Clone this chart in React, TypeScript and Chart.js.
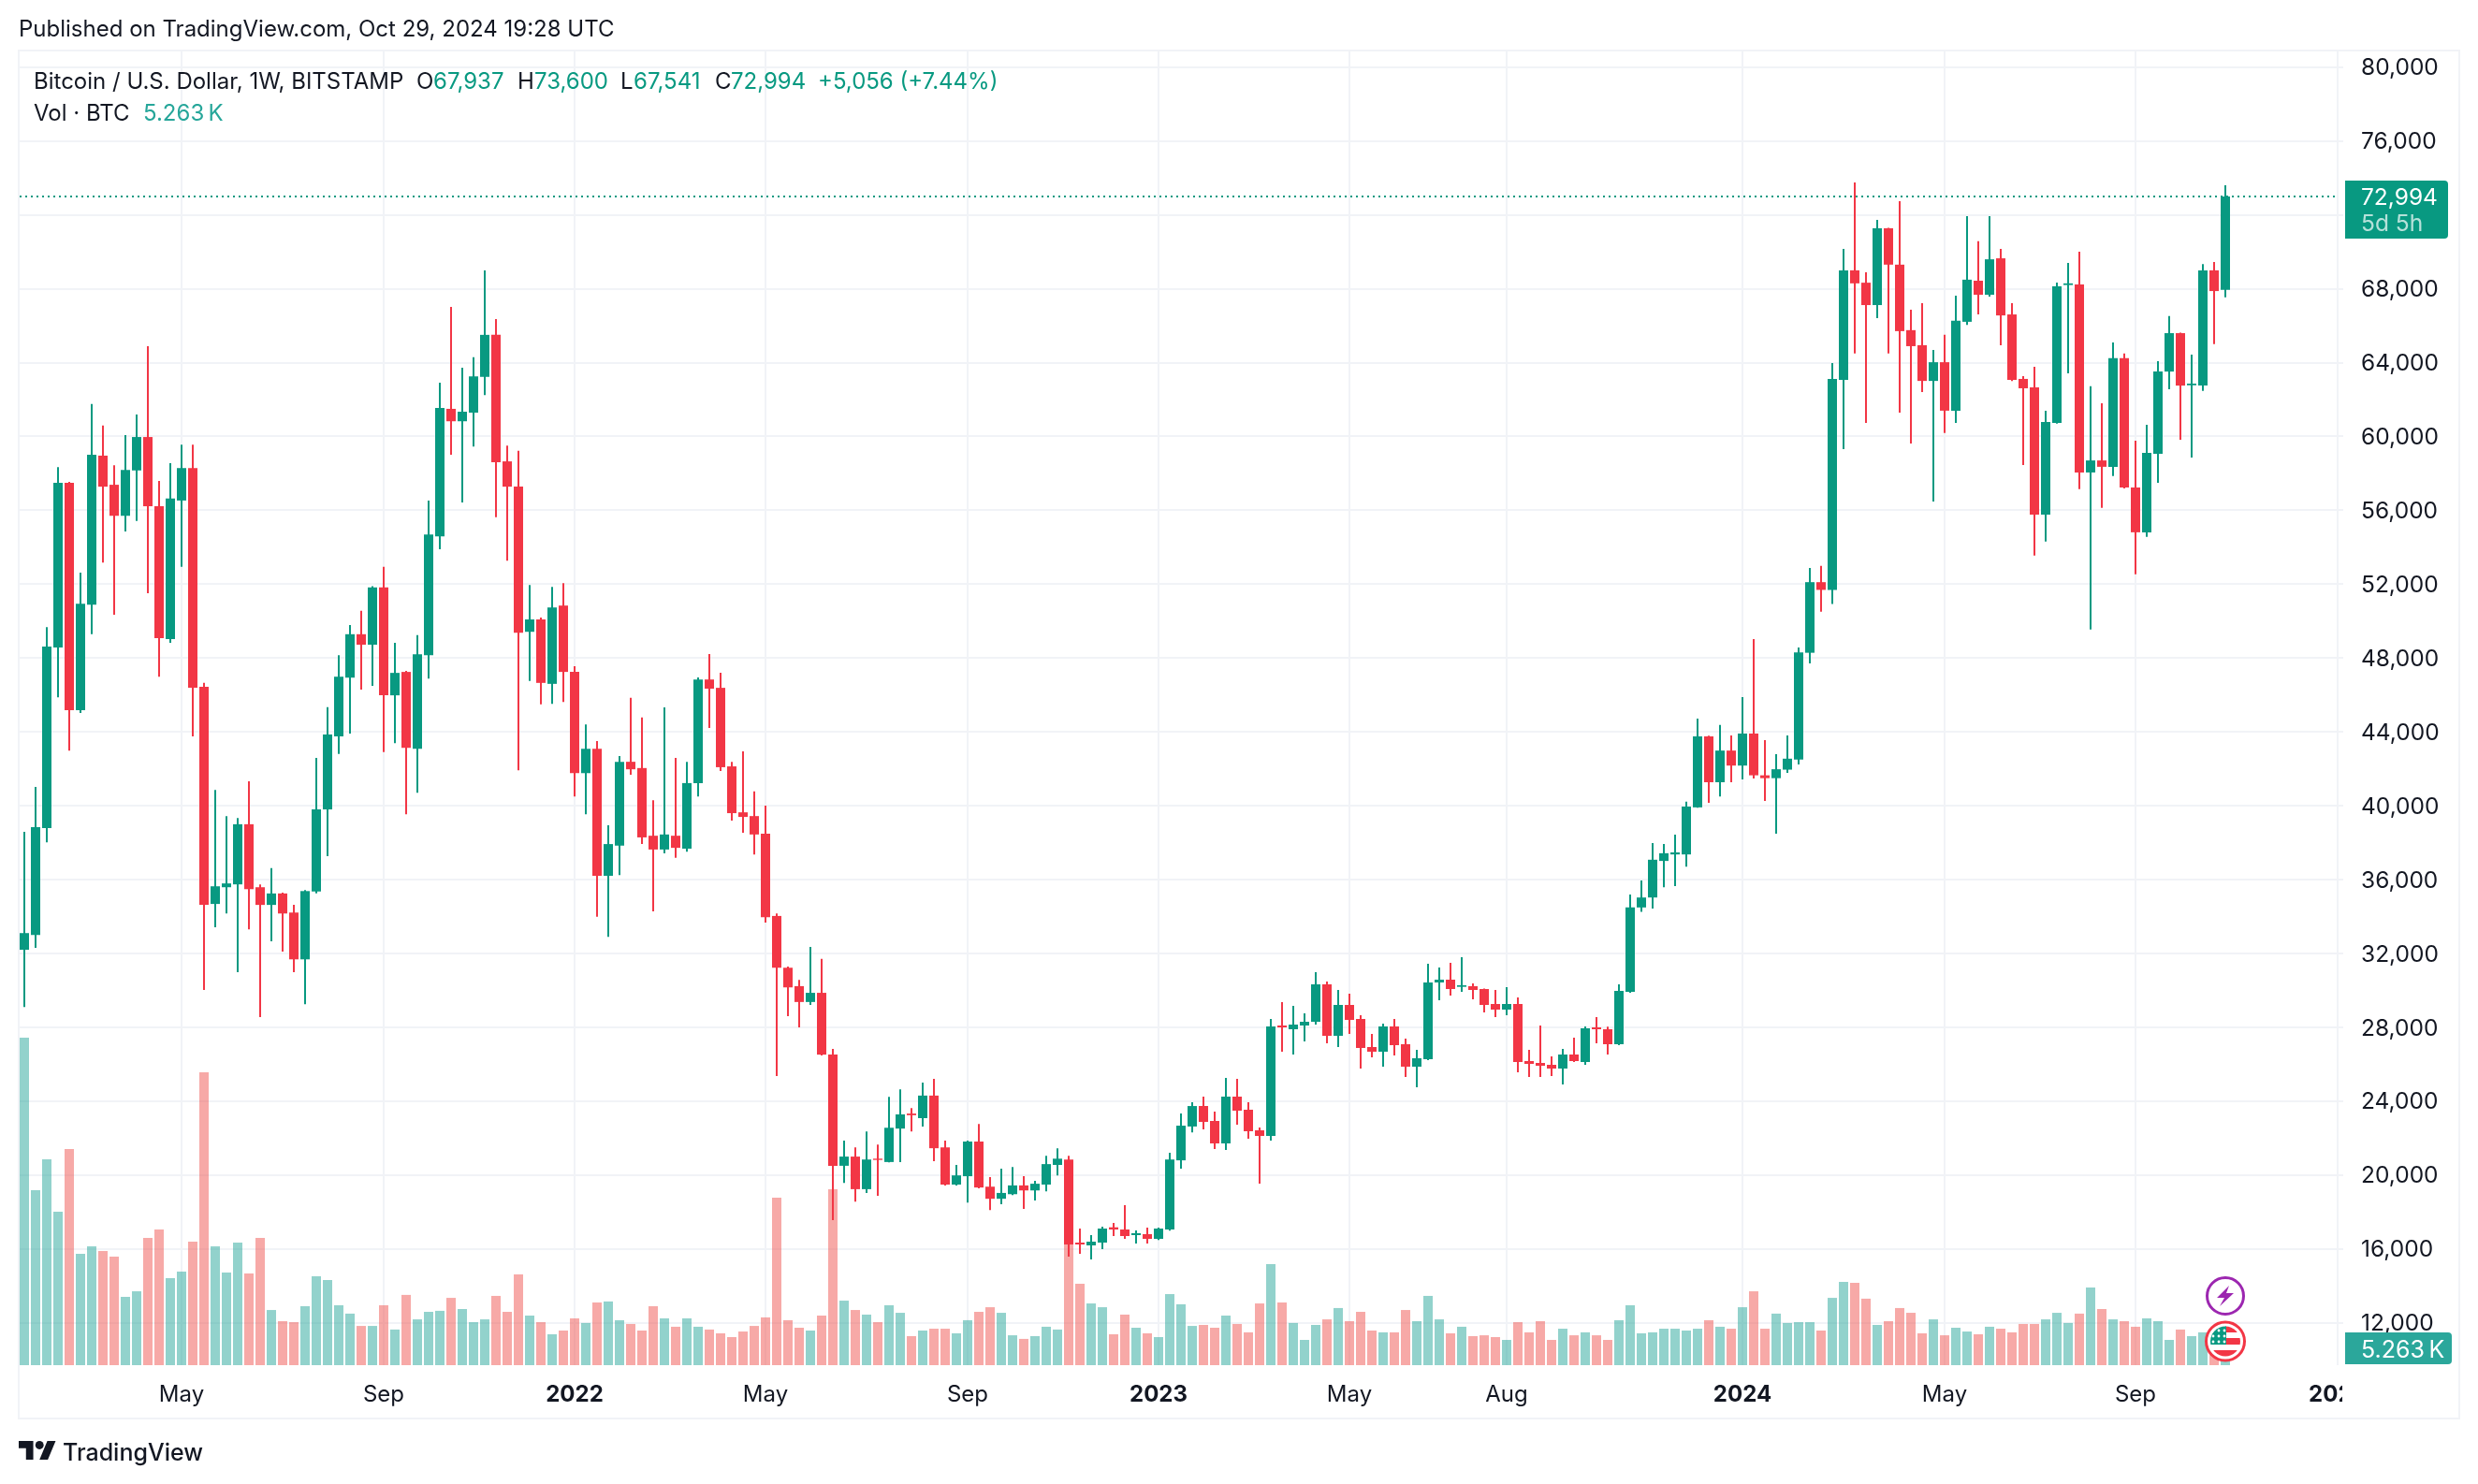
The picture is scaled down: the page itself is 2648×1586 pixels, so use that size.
import React, { useEffect, useRef } from "react";
import { Chart, registerables } from "chart.js";

Chart.register(...registerables);

const opens = [
  32208,33010,38800,48571,57490,45185,50898,58963,57386,55706,
  58162,59971,56223,49037,56533,58291,46452,34690,35595,35750,
  39007,35595,34638,35259,34225,31691,35362,39808,43763,46943,
  49295,48727,51829,45986,47253,43091,48158,54595,61497,60824,
  61290,63228,65503,58653,57283,49425,50097,46607,50846,47253,
  41773,43091,36213,37842,42388,42049,38384,37638,38384,37683,
  41235,46844,46392,42139,39651,39448,38498,34041,31237,30241,
  29382,29879,26532,20515,21012,19248,20899,20718,22528,23342,
  23093,24315,21510,19497,19949,21827,19383,18728,18976,19452,
  19180,19497,20560,20854,16355,16203,16355,17183,17064,16760,
  16811,16558,17064,20809,22641,23752,22941,21725,24258,23549,
  22435,22131,28109,27906,28109,28311,30338,27551,29223,28463,
  26943,26690,28058,27095,25879,26285,30439,30591,30203,30236,
  30084,29274,28970,29274,26183,26082,25981,25778,26538,26133,
  28007,27906,27095,29932,34500,35040,37019,37371,37371,39919,
  43764,41281,42995,42182,43918,41655,41501,41962,42512,48290,
  52113,51695,63063,68996,68327,67115,71275,69304,65758,64944,
  63008,64021,61398,66210,68435,67675,69647,66608,63117,62665,
  55772,60729,68200,68236,58052,58703,58359,64238,57238,54813,
  59065,63515,65595,62773,62755,68996,67937,
];
const highs = [
  38593,41023,49683,58343,57541,52630,61755,60592,58446,60075,
  61186,64883,57593,58550,59558,59558,46659,40868,39446,39343,
  41333,35750,36629,35300,34638,35440,42600,45340,48158,49786,
  50562,51900,52940,48830,47305,49244,56533,62918,67016,63720,
  64288,68990,66356,59506,59222,51958,50200,51855,52061,47563,
  44410,43505,38950,42705,45849,44786,40307,45329,42592,42388,
  46957,48224,47206,42388,42954,40782,40013,34177,31300,30581,
  32368,31712,26848,21872,21510,22370,21668,24247,24654,23636,
  25016,25220,21872,20560,21872,22776,19904,20356,20447,19949,
  19700,21058,21465,21058,17115,16760,17216,17419,18380,17014,
  17163,17166,21216,23342,23953,24258,23448,25272,25221,23954,
  22586,28463,29375,29172,28767,30996,30490,30034,29831,28666,
  27653,28210,28463,27399,26791,31452,31250,31503,31807,30388,
  30110,30034,30186,29628,26791,28109,26437,26842,27450,28058,
  28564,28050,30338,35197,35965,37986,37942,38447,40227,44731,
  43800,44379,43808,45895,49037,43566,42797,43808,48575,52882,
  52991,63976,70154,73754,68887,71728,71300,72741,66861,67223,
  64691,65505,67621,71927,70570,71927,70154,67223,63261,63768,
  61398,68327,69394,70009,62719,61796,65089,64492,59770,60638,
  64076,66518,65620,64437,69340,69448,73600,
];
const lows = [
  29106,32312,38025,45883,42988,45030,49295,53173,50355,54853,
  55422,51518,46995,48830,52940,43763,30037,33423,34173,30993,
  33320,28564,32674,32105,30993,29262,35259,37275,42807,43918,
  46297,46503,42910,43401,39550,40713,46891,53897,59015,56430,
  59454,62246,55628,53276,41928,46762,45495,45521,45625,40506,
  39550,33992,32910,36258,41687,37932,34290,37434,37186,37525,
  40511,44220,41891,39199,38543,37367,33679,25378,28613,28002,
  29223,26486,17574,19587,18569,19044,18886,20700,20718,22370,
  22641,20763,19450,19450,18524,19293,18117,18434,18931,18185,
  18637,19135,19994,15595,15747,15443,16000,16710,16558,16304,
  16304,16500,17000,20356,22324,22485,21421,21371,22738,21979,
  19547,21877,26690,26538,27247,28159,27146,26943,27653,25778,
  26386,25879,26487,25322,24765,26234,29476,29730,29932,29527,
  28818,28564,28666,25575,25322,25322,25373,24917,26133,25981,
  27146,26538,27050,29880,34258,34440,35600,35657,36712,39900,
  40161,40512,41281,41435,41480,40271,38491,41787,42248,47719,
  50509,50926,59318,64492,60729,66409,64492,61290,59625,62411,
  56478,60186,60729,66047,66608,67567,64944,63000,58450,53547,
  54307,60693,63424,57147,49549,56134,57853,57183,52534,54560,
  57491,62556,59824,58866,62466,64998,67541,
];
const closes = [
  33113,38852,48623,57490,45185,50950,59015,57283,55706,58188,
  59971,56223,49088,56637,58291,46400,34638,35646,35802,39007,
  35491,34638,35259,34173,31691,35388,39808,43867,46995,49295,
  48727,51829,45986,47201,43143,48210,54698,61548,60824,61341,
  63254,65503,58601,57283,49373,50097,46659,50743,47253,41773,
  43091,36215,37932,42388,41981,38294,37638,38452,37728,41235,
  46844,46347,42094,39606,39402,38452,33974,31237,30173,29382,
  29879,26532,20515,21012,19248,20854,20832,22573,23297,23252,
  24315,21465,19497,19994,21827,19338,18728,19044,19452,19180,
  19542,20605,20899,16254,16254,16406,17115,17064,16710,16862,
  16558,17115,20854,22686,23749,22890,21725,24258,23498,22384,
  22131,28058,28007,28159,28311,30338,27551,29223,28413,26893,
  26690,28058,27045,25879,26335,30439,30591,30084,30287,30034,
  29223,28970,29274,26133,26031,25930,25778,26538,26183,27957,
  27906,27095,29983,34500,35040,37085,37437,37481,39963,43764,
  41281,42995,42182,43918,41655,41501,41984,42556,48312,52113,
  51695,63120,68996,68291,67115,71275,69304,65704,64890,63008,
  64021,61398,66264,68490,67675,69593,66554,63063,62610,55772,
  60783,68128,68291,58052,58703,58359,64238,57238,54813,59119,
  63515,65595,62755,62864,68996,67874,72994,
];
const volumes = [
  199.5,106.6,125.4,93.5,131.7,67.8,72.4,69.5,66.1,41.6,
  45.0,77.5,82.7,53.0,57.0,75.2,178.4,72.4,56.4,74.7,
  55.9,77.5,33.6,26.8,26.2,35.9,54.2,51.9,36.5,31.4,
  23.9,23.9,36.5,21.7,42.8,27.9,32.5,33.1,41.0,34.2,
  26.2,27.9,42.2,32.5,55.3,30.2,26.2,18.8,21.1,28.5,
  25.7,38.2,38.8,27.4,25.1,21.1,35.9,28.5,23.4,28.5,
  23.4,21.7,19.4,17.1,20.5,23.9,29.1,102.0,27.4,22.8,
  21.1,30.2,107.2,39.3,33.6,30.8,26.2,36.5,31.9,17.7,
  21.1,22.2,22.2,19.4,27.4,32.5,35.3,31.9,18.2,16.0,
  17.7,23.4,21.7,85.5,49.6,37.6,35.3,18.8,30.8,22.8,
  19.4,17.1,43.3,37.1,23.9,24.5,22.8,30.2,25.1,20.0,
  37.6,61.6,38.2,25.7,15.4,24.5,27.9,34.8,26.8,32.5,
  21.1,20.0,20.0,33.6,26.8,42.2,27.9,19.4,23.4,17.7,
  18.2,17.1,15.4,26.2,20.0,26.8,15.4,22.2,18.2,20.0,
  18.2,15.4,27.4,36.5,19.4,20.0,22.2,22.2,21.1,22.2,
  27.4,23.4,22.2,35.3,45.0,22.2,31.4,25.7,26.2,26.2,
  21.1,41.0,50.7,50.2,40.5,24.5,26.8,34.8,31.9,19.4,
  27.9,18.2,22.8,20.5,18.8,23.4,22.2,20.0,25.1,25.1,
  27.9,31.9,25.7,31.4,47.3,34.2,27.9,26.8,23.4,28.5,
  26.8,15.4,21.7,17.7,20.0,18.0,5.263,
];

const priceTicks = [12000,16000,20000,24000,28000,32000,36000,40000,44000,48000,52000,56000,60000,64000,68000,72000,76000,80000];
const timeTickIndex = [14,32,49,66,84,101,118,132,153,171,188,206];
const timeTickLabels = ["May","Sep","2022","May","Sep","2023","May","Aug","2024","May","Sep","2025"];
const lastPrice = 72994;

const UP = "#089981";
const DOWN = "#F23645";
const VOL_UP = "rgba(38,166,154,0.5)";
const VOL_DOWN = "rgba(239,83,80,0.5)";
const GRID = "#F1F3F7";
const INK = "#131722";
const FONT = "Inter, 'Noto Sans', sans-serif";

const W = 2648;
const H = 1586;
const X_MIN = -5 / 12;
const X_MAX = 206;

const idx = opens.map((_, i) => i);
const isUp = (i: number) => closes[i] >= opens[i];

const framePlugin = {
  id: "frame",
  afterDraw(chart: any) {
    const c = chart.ctx;
    c.save();
    c.fillStyle = "#ffffff";
    c.fillRect(2503, 1461, 123, 53);
    c.fillStyle = GRID;
    c.fillRect(19, 53, 2610, 2);
    c.fillRect(19, 1515, 2610, 2);
    c.fillRect(19, 53, 2, 1464);
    c.fillRect(2627, 53, 2, 1464);
    c.fillRect(2497, 53, 2, 1406);
    c.restore();
  },
};

function T({ x, y, size = 24, color = INK, weight = 400, children }: any) {
  return (
    <div
      style={{
        position: "absolute",
        left: x,
        top: y,
        transform: "translateY(-50%)",
        fontFamily: FONT,
        fontSize: size,
        color,
        fontWeight: weight,
        whiteSpace: "nowrap",
        lineHeight: 1,
      }}
    >
      {children}
    </div>
  );
}

function Icons() {
  return (
    <svg width={W} height={H} style={{ position: "absolute", left: 0, top: 0, pointerEvents: "none" }}>
      <defs>
        <clipPath id="flagClip">
          <circle cx={2378} cy={1433.5} r={16} />
        </clipPath>
      </defs>
      <circle cx={2378} cy={1385} r={19.5} fill="#fff" stroke="#9C27B0" strokeWidth={3} />
      <path d="M2382 1374 L2369 1387 L2377 1387 L2372 1396 L2387 1382 L2379 1382 Z" fill="#9C27B0" />
      <circle cx={2378} cy={1433.5} r={20.5} fill="#fff" stroke={DOWN} strokeWidth={3} />
      <g clipPath="url(#flagClip)">
        <rect x={2360} y={1416} width={36} height={36} fill="#fff" />
        <rect x={2378} y={1417} width={20} height={7} fill={DOWN} />
        <rect x={2378} y={1430} width={20} height={7} fill={DOWN} />
        <rect x={2360} y={1443} width={36} height={8} fill={DOWN} />
        <rect x={2360} y={1417} width={19} height={20} fill={UP} />
        {[1422, 1428, 1434].map((cy) =>
          [2366, 2372, 2378].map((cx) => <circle key={cx + "-" + cy} cx={cx - 1} cy={cy} r={1.4} fill="#fff" />),
        )}
      </g>
    </svg>
  );
}

function Logo() {
  return (
    <svg width={40} height={20} viewBox="0 4 36 18" style={{ position: "absolute", left: 20, top: 1540 }}>
      <path d="M14 22H7V11H0V4h14v18zM28 22h-8l7.5-18h8L28 22z" fill={INK} />
      <circle cx={20} cy={8} r={4} fill={INK} />
    </svg>
  );
}

export default function App() {
  const ref = useRef<HTMLCanvasElement | null>(null);

  useEffect(() => {
    document.body.style.margin = "0";
    document.body.style.background = "#fff";
    const chart = new Chart(ref.current as HTMLCanvasElement, {
      type: "bar",
      data: {
        datasets: [
          {
            type: "line",
            label: "Last price",
            data: [
              { x: X_MIN, y: lastPrice },
              { x: X_MAX, y: lastPrice },
            ],
            borderColor: UP,
            borderWidth: 2,
            borderDash: [2, 4],
            pointRadius: 0,
            tension: 0,
            xAxisID: "x",
            yAxisID: "y",
            order: 0,
          },
          {
            label: "Open/Close",
            data: idx.map((i) => ({ x: i, y: [opens[i], closes[i]] })),
            backgroundColor: idx.map((i) => (isUp(i) ? UP : DOWN)),
            barThickness: 10,
            maxBarThickness: 10,
            grouped: false,
            barPercentage: 1,
            categoryPercentage: 1,
            inflateAmount: 0,
            borderSkipped: false,
            xAxisID: "x",
            yAxisID: "y",
            order: 1,
          },
          {
            label: "High/Low",
            data: idx.map((i) => ({ x: i, y: [lows[i], highs[i]] })),
            backgroundColor: idx.map((i) => (isUp(i) ? UP : DOWN)),
            barThickness: 2,
            maxBarThickness: 2,
            grouped: false,
            barPercentage: 1,
            categoryPercentage: 1,
            inflateAmount: 0,
            borderSkipped: false,
            xAxisID: "x",
            yAxisID: "y",
            order: 2,
          },
          {
            label: "Vol BTC (K)",
            data: idx.map((i) => ({ x: i, y: volumes[i] })),
            backgroundColor: idx.map((i) => (isUp(i) ? VOL_UP : VOL_DOWN)),
            barThickness: 10,
            maxBarThickness: 10,
            grouped: false,
            barPercentage: 1,
            categoryPercentage: 1,
            inflateAmount: 0,
            xAxisID: "x",
            yAxisID: "vol",
            order: 3,
          },
        ],
      } as any,
      options: {
        responsive: false,
        animation: false,
        events: [],
        layout: { padding: { left: 21, top: 54, right: 0, bottom: 0 } },
        plugins: { legend: { display: false }, tooltip: { enabled: false }, title: { display: false } },
        scales: {
          x: {
            type: "linear",
            min: X_MIN,
            max: X_MAX,
            offset: false,
            position: "bottom",
            afterFit: (s: any) => {
              s.height = 127;
            },
            afterBuildTicks: (s: any) => {
              s.ticks = timeTickIndex.map((v) => ({ value: v }));
            },
            grid: { color: GRID, lineWidth: 2, drawTicks: false, offset: false },
            border: { display: false },
            ticks: {
              autoSkip: false,
              maxRotation: 0,
              minRotation: 0,
              padding: 17,
              color: INK,
              font: (ctx: any) => {
                const label = String(timeTickLabels[ctx.index] ?? "");
                return { family: FONT, size: 24, weight: /^\d/.test(label) ? "700" : "400" };
              },
              callback: (_v: any, i: number) => timeTickLabels[i],
            },
          },
          y: {
            type: "linear",
            position: "right",
            min: 9719,
            max: 80897,
            afterFit: (s: any) => {
              s.width = 150;
            },
            afterBuildTicks: (s: any) => {
              s.ticks = priceTicks.map((v) => ({ value: v }));
            },
            grid: { color: GRID, lineWidth: 2, drawTicks: true, tickLength: 6, tickColor: GRID },
            border: { display: false },
            ticks: {
              padding: 19,
              labelOffset: 1,
              color: INK,
              font: { family: FONT, size: 24.5 },
              callback: (v: any) => Number(v).toLocaleString("en-US"),
            },
          },
          vol: {
            type: "linear",
            display: false,
            min: 0,
            max: 800.85,
            grid: { display: false },
          },
        },
      } as any,
      plugins: [framePlugin],
    });
    return () => chart.destroy();
  }, []);

  return (
    <div style={{ position: "absolute", left: 0, top: 0, width: W, height: H, overflow: "hidden", background: "#fff" }}>
      <canvas ref={ref} width={W} height={H} style={{ display: "block", width: W, height: H }} />
      <T x={20} y={31}>Published on TradingView.com, Oct 29, 2024 19:28 UTC</T>

      <T x={36} y={86.5}>Bitcoin / U.S. Dollar, 1W, BITSTAMP</T>
      <T x={445} y={86.5}>O</T>
      <T x={463} y={86.5} color={UP}>67,937</T>
      <T x={553} y={86.5}>H</T>
      <T x={571} y={86.5} color={UP}>73,600</T>
      <T x={663} y={86.5}>L</T>
      <T x={677} y={86.5} color={UP}>67,541</T>
      <T x={764} y={86.5}>C</T>
      <T x={781} y={86.5} color={UP}>72,994</T>
      <T x={874} y={86.5} color={UP}>+5,056 (+7.44%)</T>

      <T x={36} y={121}>Vol · BTC</T>
      <T x={153} y={121} color="#26A69A">5.263{"\u2009"}K</T>

      <div style={{ position: "absolute", left: 2506, top: 193, width: 110, height: 62, background: UP, borderRadius: "0 4px 4px 0" }} />
      <T x={2523} y={210} size={24.5} color="#fff">72,994</T>
      <T x={2523} y={238} size={24.5} color="rgba(255,255,255,0.7)">5d 5h</T>

      <div style={{ position: "absolute", left: 2506, top: 1424, width: 114, height: 34, background: "#2BA79B", borderRadius: "0 4px 4px 0" }} />
      <T x={2523} y={1442} size={25} color="#fff">5.263{"\u2009"}K</T>

      <Icons />
      <Logo />
      <T x={67} y={1552} size={25} weight={500}>TradingView</T>
    </div>
  );
}
